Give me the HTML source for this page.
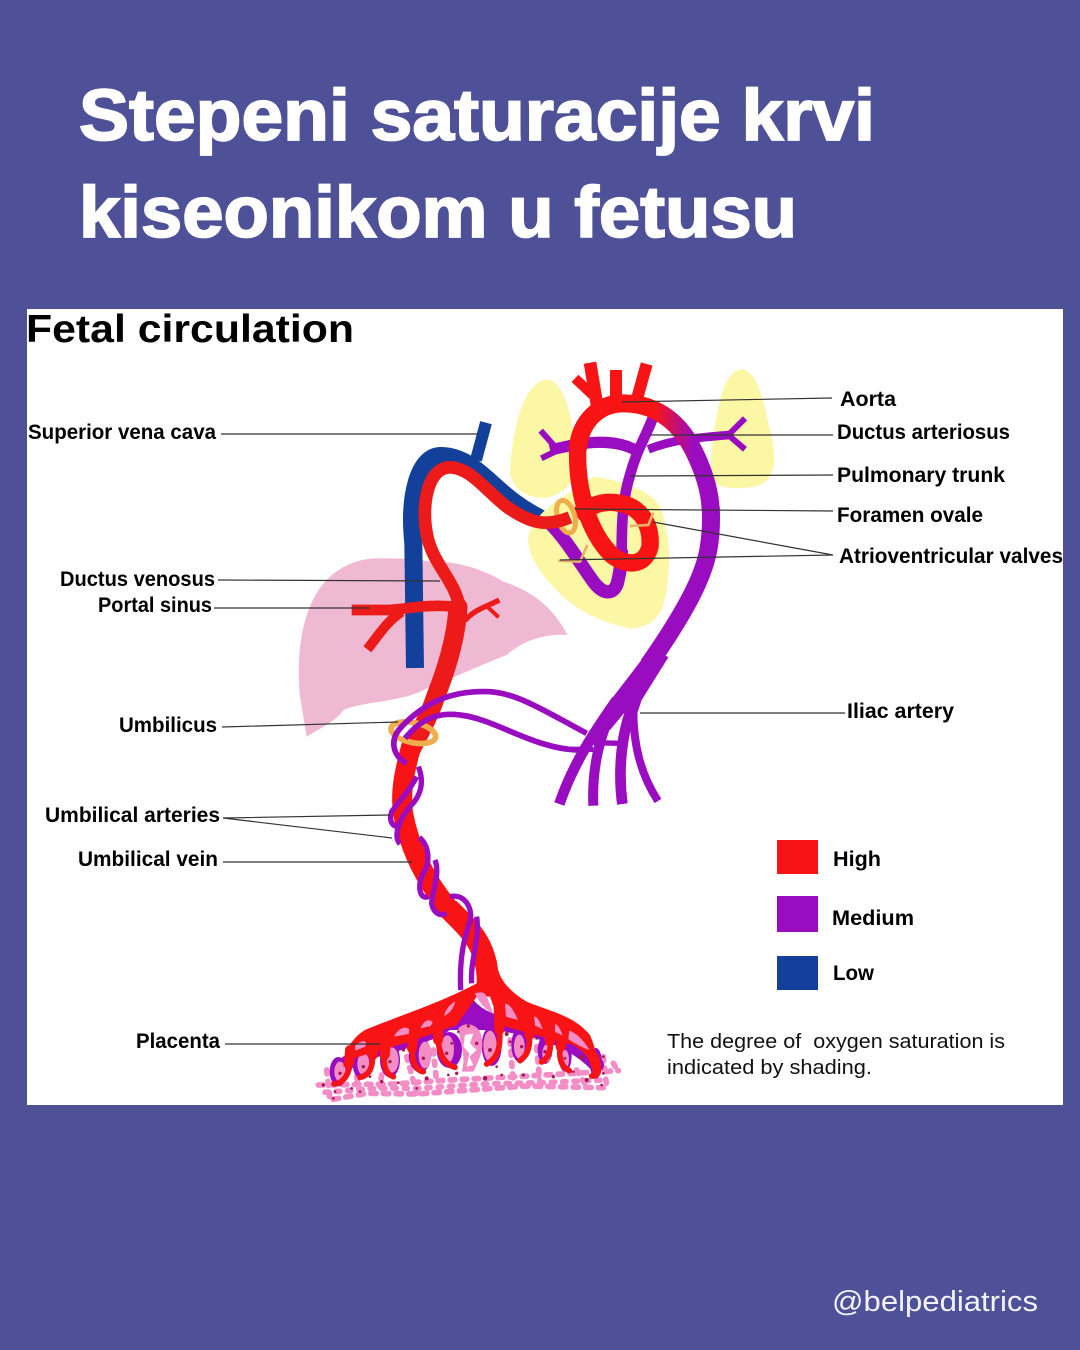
<!DOCTYPE html>
<html><head><meta charset="utf-8"><style>
html,body{margin:0;padding:0;background:#4e5198;width:1080px;height:1350px;overflow:hidden}
svg{display:block}
text{font-family:"Liberation Sans",sans-serif;fill:#000}
.b{font-weight:bold;font-size:21px}
.n{font-size:20px;fill:#111}
.t{font-weight:bold;font-size:72px;fill:#fff;stroke:#fff;stroke-width:1.8}
.l{stroke:#333;stroke-width:1.2;fill:none}
</style></head><body>
<svg width="1080" height="1350" viewBox="0 0 1080 1350" xmlns="http://www.w3.org/2000/svg">
<defs><linearGradient id="ao" gradientUnits="userSpaceOnUse" x1="525" y1="0" x2="640" y2="0"><stop offset="0" stop-color="#f81414"/><stop offset="1" stop-color="#9a0cc0"/></linearGradient></defs>
<rect width="1080" height="1350" fill="#4e5198"/>
<text class="t" x="79" y="140" textLength="796" lengthAdjust="spacingAndGlyphs">Stepeni saturacije krvi</text>
<text class="t" x="79" y="237" textLength="718" lengthAdjust="spacingAndGlyphs">kiseonikom u fetusu</text>
<rect x="27" y="309" width="1036" height="796" fill="#fff"/>
<text x="26" y="342" font-size="39" font-weight="bold" textLength="328" lengthAdjust="spacingAndGlyphs">Fetal circulation</text>

<!-- liver + veins -->
<g transform="translate(290,410) scale(.33333)" fill="none">
<path fill="#f0b9d3" d="M265,445 C180,445 100,490 60,590 C30,660 20,760 30,860 L50,980 C100,950 140,930 160,900 C230,870 340,880 420,830 C500,800 560,770 650,735 C700,690 770,670 832,675 C790,590 720,540 640,515 C570,470 470,450 420,455 C370,445 320,445 265,445Z"/>
<path stroke="#12409a" stroke-width="54" d="M375,774 L370,400 C355,260 385,135 455,138 C540,140 590,215 670,275 C710,305 740,320 790,345"/>
<path stroke="#12409a" stroke-width="36" d="M588,38 L558,150"/>
</g>

<!-- heart -->
<g transform="translate(480,350) scale(.33333)" fill="none" stroke-linejoin="round">
<path fill="#fbf7a4" d="M200,88 C250,90 280,200 285,300 C290,380 275,430 190,445 C140,440 100,420 90,370 C95,270 120,100 200,88Z"/>
<path fill="#fbf7a4" d="M785,58 C830,60 850,150 870,240 C890,320 890,380 840,405 C790,420 720,420 692,390 C690,320 700,240 712,190 C725,120 745,60 785,58Z"/>
<path fill="#fbf7a4" d="M340,380 C420,390 510,420 540,470 C565,540 575,620 560,720 C550,800 510,835 450,835 C370,820 280,780 220,710 C170,660 140,600 145,560 C160,510 190,470 300,410Z"/>
<path stroke="#9a0cc0" stroke-width="40" d="M210,520 C260,570 300,640 340,695 C370,735 400,735 412,700 C422,660 425,630 424,600"/>
<path stroke="#9a0cc0" stroke-width="32" d="M518,205 C495,265 470,300 450,375 C430,440 425,500 425,610"/>
<path stroke="#9a0cc0" stroke-width="34" d="M210,300 L270,287 C340,272 420,270 475,305"/>
<path stroke="#9a0cc0" stroke-width="26" d="M505,298 C580,268 660,262 750,255"/>
<path stroke="#9a0cc0" stroke-width="18" d="M182,242 L225,290 M184,325 L235,300 M795,205 L745,255 L795,298"/>
<path stroke="url(#ao)" stroke-width="54" d="M293,300 C300,210 360,160 430,160 C510,160 590,200 640,300 C670,360 690,420 692,480"/>
<path stroke="#9a0cc0" stroke-width="54" d="M692,470 C695,520 692,560 685,600 C670,680 620,780 505,945"/>
<path stroke="#f81414" stroke-width="38" d="M352,170 L330,38"/>
<path stroke="#f81414" stroke-width="30" d="M338,135 L285,85"/>
<path stroke="#f81414" stroke-width="36" d="M408,60 L408,150"/>
<path stroke="#f81414" stroke-width="36" d="M500,42 L470,150"/>
<path stroke="#f81414" stroke-width="52" d="M293,300 C290,410 320,540 395,615 C440,650 495,650 510,590 C515,520 480,470 420,460 C370,450 330,465 290,500"/>
<path stroke="#f81414" stroke-width="20" d="M300,400 L340,470"/>
<ellipse cx="258" cy="500" rx="26" ry="50" transform="rotate(-16 258 500)" stroke="#f0ad4b" stroke-width="15"/>
<path stroke="#e6b06e" stroke-width="8" d="M235,632 L300,635 L322,585 M450,528 L505,525 L520,488"/>
</g>

<!-- red vein & liver branches -->
<g transform="translate(290,410) scale(.33333)" fill="none">
<path stroke="#ed1a1a" stroke-width="38" d="M840,322 C770,352 720,340 650,290 C585,240 540,170 475,172 C410,180 395,290 410,370 C425,460 495,510 508,590"/>
<path stroke="#ed1a1a" stroke-width="32" d="M185,600 L300,600 C360,595 420,582 490,590"/>
<path stroke="#ed1a1a" stroke-width="30" d="M232,718 C270,670 290,635 335,605"/>
<path stroke="#ed1a1a" stroke-width="16" d="M525,632 C550,600 590,590 628,570"/>
<path stroke="#ed1a1a" stroke-width="12" d="M592,590 L626,622"/>
</g>

<!-- full-coordinate vein/cord -->
<g fill="none" stroke-linecap="round">
<path stroke="#ed1a1a" stroke-width="19" d="M458,607 C456,640 446,670 437,693 C428,720 418,735 411,750"/>
<path stroke="#f81414" stroke-width="20" d="M411,747 C405,770 400,790 403,813 C410,850 425,880 450,910"/>
<path stroke="#f81414" stroke-width="22" d="M450,910 C470,930 488,945 488,985"/>
</g>

<!-- umbilical arteries + ring -->
<g transform="translate(290,410) scale(.33333)" fill="none">
<ellipse cx="370" cy="968" rx="68" ry="30" transform="rotate(12 370 968)" stroke="#f0ad4b" stroke-width="17"/>
<path stroke="#9a0cc0" stroke-width="17" d="M330,955 C400,880 480,840 600,845 C680,850 760,900 890,970"/>
<path stroke="#9a0cc0" stroke-width="17" d="M345,985 C390,930 440,905 510,915 C610,925 730,1015 860,1020"/>
</g>

<!-- coils and iliac -->
<g transform="translate(370,700) scale(.33333)" fill="none" stroke-linejoin="round">
<path stroke="#9a0cc0" stroke-width="17" d="M95,80 C55,120 70,170 110,190"/>
<path stroke="#9a0cc0" stroke-width="16" d="M145,200 C165,250 150,290 120,320 C85,360 70,410 90,432"/>
<path stroke="#9a0cc0" stroke-width="16" d="M140,230 C120,270 90,300 65,335 C55,365 70,385 90,378"/>
<path stroke="#9a0cc0" stroke-width="16" d="M148,412 C180,440 180,490 160,520 C140,560 150,600 175,590"/>
<path stroke="#9a0cc0" stroke-width="16" d="M195,480 C210,520 190,560 185,610 C190,640 210,650 230,640"/>
<path stroke="#9a0cc0" stroke-width="16" d="M240,590 C280,580 310,620 300,665 C280,720 268,780 272,870"/>
<path stroke="#9a0cc0" stroke-width="16" d="M320,650 C330,720 300,780 305,850"/>
<path fill="#9a0cc0" d="M845,-160 L895,-128 L815,0 L792,70 L770,30 L720,90 L680,90 L730,-10Z"/>
<path stroke="#9a0cc0" stroke-width="32" d="M740,0 C670,100 610,190 568,312"/>
<path stroke="#9a0cc0" stroke-width="30" d="M740,0 C690,100 665,200 670,317"/>
<path stroke="#9a0cc0" stroke-width="32" d="M795,0 C750,100 745,220 757,312"/>
<path stroke="#9a0cc0" stroke-width="24" d="M790,30 C790,130 810,220 864,303"/>
<path stroke="#9a0cc0" stroke-width="16" d="M600,148 L670,148 M670,128 L750,130"/>
</g>

<!-- placenta -->
<g transform="translate(310,960) scale(.33333)" fill="none" stroke-linecap="round" stroke-linejoin="round">
<g stroke="#f48cc6" stroke-width="17">
<path stroke-dasharray="14 22" d="M25,375 L250,372 L420,360 L620,350 L925,332"/>
<path stroke-dasharray="10 24" d="M45,397 L200,385 L330,385 L520,372 L700,368 L885,360"/>
<path stroke-dasharray="16 22" d="M70,418 L170,400 L320,402 L510,388 L650,378 L880,383"/>
<path stroke-dasharray="12 22" d="M50,330 L60,420 M140,350 L150,400 M215,345 L210,380 M290,290 L320,400 M370,270 L380,370 M600,240 L610,370 M680,260 L690,370 M800,330 L830,380 M880,290 L890,380 M910,310 L925,335"/>
</g>
<path fill="#9a0cc0" stroke="none" d="M470,100 L385,210 L575,210Z"/>
<path stroke="#9a0cc0" stroke-width="44" d="M95,325 C130,275 250,262 340,225 C400,205 430,180 470,130 C510,180 560,190 650,205 C730,225 810,260 860,315"/>
<g fill="#9a0cc0" stroke="none">
<ellipse cx="85" cy="335" rx="26" ry="44"/><ellipse cx="155" cy="310" rx="27" ry="48"/><ellipse cx="240" cy="300" rx="30" ry="52"/>
<ellipse cx="330" cy="285" rx="34" ry="52"/><ellipse cx="418" cy="270" rx="38" ry="54"/><ellipse cx="545" cy="258" rx="30" ry="60"/>
<ellipse cx="630" cy="255" rx="26" ry="52"/><ellipse cx="705" cy="270" rx="22" ry="42"/><ellipse cx="765" cy="285" rx="20" ry="50"/><ellipse cx="858" cy="310" rx="18" ry="46"/>
</g>
<g fill="#f48cc6" stroke="none">
<ellipse cx="90" cy="335" rx="17" ry="30"/><ellipse cx="160" cy="312" rx="18" ry="33"/><ellipse cx="245" cy="300" rx="21" ry="38"/>
<ellipse cx="345" cy="285" rx="19" ry="40"/><ellipse cx="412" cy="268" rx="20" ry="42"/><ellipse cx="540" cy="258" rx="20" ry="46"/>
<ellipse cx="628" cy="260" rx="16" ry="36"/><ellipse cx="710" cy="280" rx="13" ry="26"/><ellipse cx="765" cy="298" rx="12" ry="28"/>
<path d="M445,205 C465,185 495,190 510,215 C525,250 515,290 490,335 L455,335 C470,290 450,250 445,205Z"/>
</g>
<path fill="#fff" stroke="none" d="M465,225 L490,220 L480,250 L500,270 L478,290 L490,315 L470,320 L478,280 L460,260Z"/>
<path fill="#f81414" stroke="none" d="M502,0 L560,0 C560,55 600,95 650,125 C720,155 790,165 840,225 C855,260 865,300 870,345 L848,345 C845,300 825,275 790,255 L640,215 L570,195 L540,110 L500,110 L440,195 L300,245 L180,280 L130,295 L120,325 L100,320 C105,270 125,235 165,210 C260,170 400,125 500,70Z"/>
<g stroke="#f81414">
<path stroke-width="30" d="M190,240 L188,285 M312,205 L306,265 M385,170 L384,240 M565,110 L568,210 M655,160 L658,225 M715,185 L720,245 M762,210 L752,260 M230,225 L224,285 M120,270 L118,305"/>
<path stroke-width="17" d="M118,290 C125,330 105,370 72,372"/>
<path stroke-width="17" d="M187,270 C190,310 185,345 150,352"/>
<path stroke-width="17" d="M224,270 C220,310 222,340 250,350"/>
<path stroke-width="17" d="M306,250 C305,290 310,330 340,335"/>
<path stroke-width="17" d="M384,230 C385,270 395,310 435,322"/>
<path stroke-width="17" d="M568,200 C572,250 570,290 530,312"/>
<path stroke-width="17" d="M658,215 C660,250 660,280 630,302"/>
<path stroke-width="17" d="M720,235 C724,265 720,290 695,306"/>
<path stroke-width="17" d="M752,250 C745,285 750,320 778,332"/>
<path stroke-width="17" d="M855,285 C872,320 868,352 845,348"/>
</g>
<g fill="#f48cc6" stroke="none">
<path d="M252,230 C262,208 285,195 298,208 L296,222Z"/>
<path d="M332,205 C338,185 358,172 368,188 L362,198Z"/>
<path d="M402,168 C405,150 420,132 436,124 C430,148 418,160 402,168Z"/>
<path d="M495,100 C510,95 525,95 530,110 C538,125 545,148 549,160 C525,148 505,125 495,100Z"/>
<path d="M585,132 C596,128 610,148 624,180 L588,170Z"/>
<path d="M672,170 C682,168 690,185 698,208 L675,196Z"/>
<path d="M735,192 C745,195 752,210 758,226 L735,216Z"/>
<path d="M778,212 C798,218 825,245 838,270 C815,262 792,248 775,238Z"/>
<path d="M135,258 C145,246 160,240 168,246 L166,260 L136,272Z"/>
</g>
<g fill="#a31850" stroke="none">
<circle cx="40" cy="375" r="5"/><circle cx="75" cy="395" r="4"/><circle cx="90" cy="340" r="5"/><circle cx="125" cy="385" r="4"/><circle cx="160" cy="320" r="5"/><circle cx="180" cy="350" r="4"/><circle cx="215" cy="365" r="5"/><circle cx="240" cy="305" r="5"/><circle cx="280" cy="270" r="5"/><circle cx="265" cy="368" r="4"/><circle cx="340" cy="295" r="5"/><circle cx="350" cy="355" r="6"/><circle cx="320" cy="385" r="4"/><circle cx="410" cy="280" r="5"/><circle cx="425" cy="250" r="4"/><circle cx="440" cy="340" r="5"/><circle cx="475" cy="198" r="5"/><circle cx="445" cy="215" r="4"/><circle cx="500" cy="250" r="5"/><circle cx="525" cy="355" r="7"/><circle cx="540" cy="270" r="6"/><circle cx="590" cy="222" r="6"/><circle cx="600" cy="245" r="4"/><circle cx="635" cy="260" r="5"/><circle cx="640" cy="345" r="5"/><circle cx="575" cy="345" r="4"/><circle cx="705" cy="275" r="5"/><circle cx="680" cy="235" r="4"/><circle cx="730" cy="350" r="5"/><circle cx="790" cy="335" r="4"/><circle cx="815" cy="292" r="7"/><circle cx="830" cy="360" r="6"/><circle cx="880" cy="340" r="4"/><circle cx="880" cy="290" r="4"/><circle cx="875" cy="375" r="4"/><circle cx="70" cy="415" r="4"/><circle cx="150" cy="395" r="4"/><circle cx="765" cy="295" r="4"/><circle cx="560" cy="320" r="4"/><circle cx="415" cy="345" r="4"/>
</g>
</g>

<!-- legend -->
<rect x="777" y="840" width="41" height="34" fill="#f81414"/>
<rect x="777" y="896" width="41" height="36" fill="#9a0cc0"/>
<rect x="777" y="956" width="41" height="34" fill="#12409a"/>

<!-- leader lines -->
<path class="l" d="M221,434 L478,434 M622,402 L832,398 M650,435 L833,435 M630,476 L833,475 M575,509 L833,511 M653,522 L833,555 M560,560 L833,555 M218,580 L440,581 M214,608 L370,608 M222,727 L398,722 M223,818 L390,815 M223,818 L392,838 M223,862 L412,862 M225,1044 L380,1044 M640,713 L845,713"/>

<!-- labels -->
<text class="b" x="28" y="439" textLength="188" lengthAdjust="spacingAndGlyphs">Superior vena cava</text>
<text class="b" x="840" y="406" textLength="56" lengthAdjust="spacingAndGlyphs">Aorta</text>
<text class="b" x="837" y="439" textLength="173" lengthAdjust="spacingAndGlyphs">Ductus arteriosus</text>
<text class="b" x="837" y="482" textLength="168" lengthAdjust="spacingAndGlyphs">Pulmonary trunk</text>
<text class="b" x="837" y="522" textLength="146" lengthAdjust="spacingAndGlyphs">Foramen ovale</text>
<text class="b" x="839" y="563" textLength="224" lengthAdjust="spacingAndGlyphs">Atrioventricular valves</text>
<text class="b" x="60" y="586" textLength="155" lengthAdjust="spacingAndGlyphs">Ductus venosus</text>
<text class="b" x="98" y="612" textLength="114" lengthAdjust="spacingAndGlyphs">Portal sinus</text>
<text class="b" x="119" y="732" textLength="98" lengthAdjust="spacingAndGlyphs">Umbilicus</text>
<text class="b" x="847" y="718" textLength="107" lengthAdjust="spacingAndGlyphs">Iliac artery</text>
<text class="b" x="45" y="822" textLength="175" lengthAdjust="spacingAndGlyphs">Umbilical arteries</text>
<text class="b" x="78" y="866" textLength="140" lengthAdjust="spacingAndGlyphs">Umbilical vein</text>
<text class="b" x="136" y="1048" textLength="84" lengthAdjust="spacingAndGlyphs">Placenta</text>
<text class="b" x="833" y="866" textLength="48" lengthAdjust="spacingAndGlyphs">High</text>
<text class="b" x="832" y="925" textLength="82" lengthAdjust="spacingAndGlyphs">Medium</text>
<text class="b" x="833" y="980" textLength="41" lengthAdjust="spacingAndGlyphs">Low</text>
<text class="n" x="667" y="1048" textLength="338" lengthAdjust="spacingAndGlyphs" xml:space="preserve">The degree of  oxygen saturation is</text>
<text class="n" x="667" y="1074" textLength="205" lengthAdjust="spacingAndGlyphs">indicated by shading.</text>
<text x="832" y="1311" font-size="29" style="fill:#f2f2f8" textLength="206" lengthAdjust="spacingAndGlyphs">@belpediatrics</text>
</svg>
</body></html>
